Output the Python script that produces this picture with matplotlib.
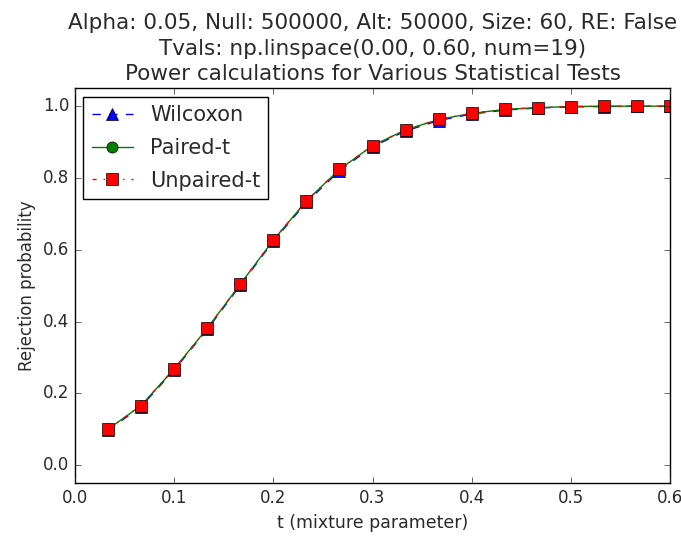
import numpy as np
import matplotlib

matplotlib.use("Agg")
import matplotlib.pyplot as plt

plt.style.use("classic")

tvals = np.linspace(0.00, 0.60, num=19)[1:]
wilcoxon = [0.097, 0.163, 0.265, 0.378, 0.501, 0.624, 0.732, 0.820, 0.887,
            0.931, 0.960, 0.978, 0.989, 0.995, 0.998, 0.999, 1.000, 1.000]
paired_t = [0.100, 0.166, 0.268, 0.381, 0.504, 0.627, 0.736, 0.824, 0.890,
            0.934, 0.963, 0.980, 0.991, 0.996, 0.999, 1.000, 1.000, 1.000]
unpaired_t = [0.100, 0.166, 0.268, 0.381, 0.504, 0.627, 0.736, 0.824, 0.890,
              0.934, 0.963, 0.980, 0.991, 0.996, 0.999, 1.000, 1.000, 1.000]

text_color = "#2a2a2a"
plt.rcParams["text.color"] = text_color
plt.rcParams["xtick.color"] = text_color
plt.rcParams["ytick.color"] = text_color
plt.rcParams["axes.labelcolor"] = text_color

fig = plt.figure(figsize=(6.81, 5.38), dpi=100)
fig.patch.set_facecolor("white")
ax = fig.add_axes([0.110, 0.102, 0.874, 0.734])

ax.plot(tvals, wilcoxon, "b--^", ms=8, label="Wilcoxon")
ax.plot(tvals, paired_t, "g-o", ms=8, label="Paired-t")
ax.plot(tvals, unpaired_t, "r-.s", ms=8, label="Unpaired-t")

ax.set_xlim(0.0, 0.6)
ax.set_ylim(-0.05, 1.05)
ax.tick_params(labelsize=12)
ax.set_xlabel("t (mixture parameter)", fontsize=12.5)
ax.set_ylabel("Rejection probability", fontsize=12)
ax.set_title("Alpha: 0.05, Null: 500000, Alt: 50000, Size: 60, RE: False\n"
             "Tvals: np.linspace(0.00, 0.60, num=19)\n"
             "Power calculations for Various Statistical Tests",
             fontsize=15.5, linespacing=1.33, pad=6)
ax.legend(loc="upper left", numpoints=1, fontsize=15, labelspacing=0.62,
          borderaxespad=0.4)

fig.savefig("out.png", dpi=100)
